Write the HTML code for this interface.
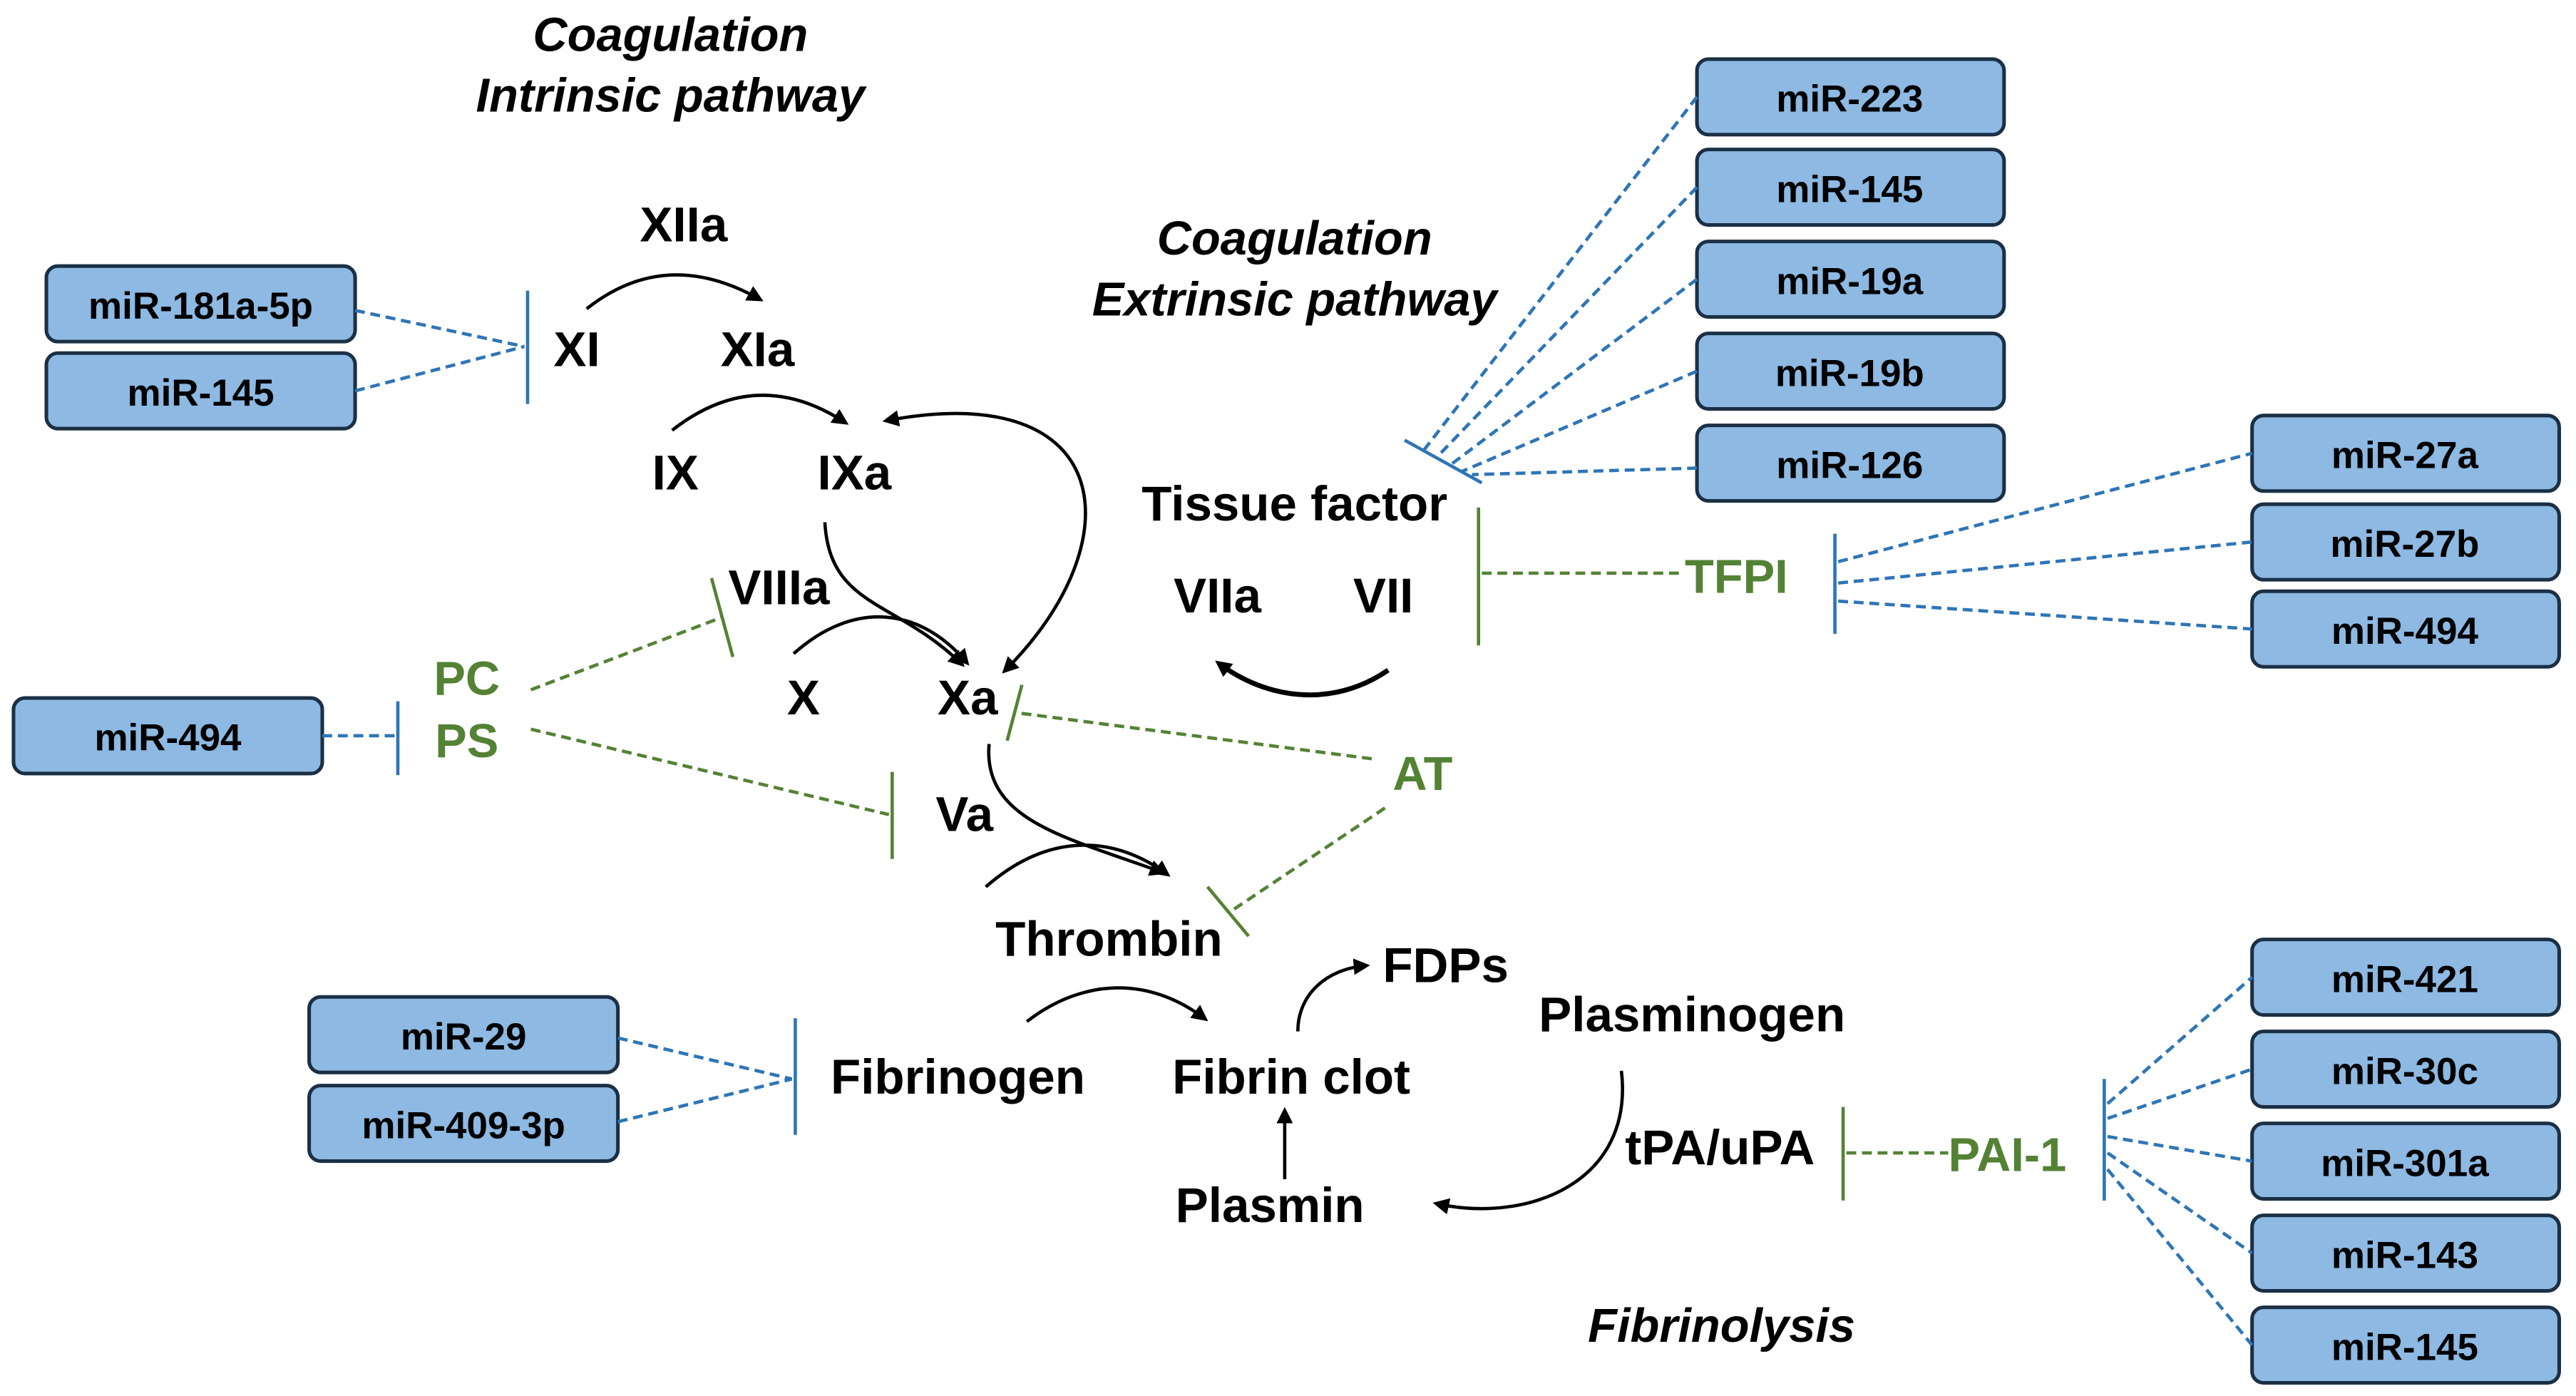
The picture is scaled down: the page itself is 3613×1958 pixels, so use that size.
<!DOCTYPE html>
<html><head><meta charset="utf-8"><style>
html,body{margin:0;padding:0;background:#fff;}
svg{display:block;}
text{font-family:"Liberation Sans",sans-serif;font-weight:bold;}
.b{font-size:30px;fill:#000;text-anchor:middle;}
.i{font-size:29px;font-style:italic;text-anchor:middle;}
.g{font-size:29px;fill:#548235;text-anchor:middle;}
.m{font-size:23px;text-anchor:middle;fill:#000;}
.box{fill:#8db9e2;stroke:#1b2f45;stroke-width:2.2;}
.bd{stroke:#2e75b6;stroke-width:2;stroke-dasharray:6,3.5;fill:none;}
.bb{stroke:#2e75b6;stroke-width:2;fill:none;}
.gd{stroke:#548235;stroke-width:2;stroke-dasharray:6,3.5;fill:none;}
.gb{stroke:#548235;stroke-width:2;fill:none;}
.ar{stroke:#000;stroke-width:2;fill:none;marker-end:url(#ah);}
</style></head><body>
<svg width="3613" height="1958" viewBox="0 0 1568 850" xmlns="http://www.w3.org/2000/svg">
<defs><marker id="ah" markerWidth="10" markerHeight="10" refX="7" refY="5" orient="auto" markerUnits="userSpaceOnUse"><path d="M0,0 L10,5 L0,10 z" fill="#000"/></marker>
<marker id="as" markerWidth="10" markerHeight="10" refX="3" refY="5" orient="auto" markerUnits="userSpaceOnUse"><path d="M10,0 L0,5 L10,10 z" fill="#000"/></marker></defs>

<g>
<rect class="box" x="28" y="162" width="188" height="46" rx="7"/><text class="m" x="122" y="194">miR-181a-5p</text>
<rect class="box" x="28" y="215" width="188" height="46" rx="7"/><text class="m" x="122" y="247">miR-145</text>
<rect class="box" x="8" y="425" width="188" height="46" rx="7"/><text class="m" x="102" y="457">miR-494</text>
<rect class="box" x="188" y="607" width="188" height="46" rx="7"/><text class="m" x="282" y="639">miR-29</text>
<rect class="box" x="188" y="661" width="188" height="46" rx="7"/><text class="m" x="282" y="693">miR-409-3p</text>
<rect class="box" x="1033" y="36" width="187" height="46" rx="7"/><text class="m" x="1126" y="68">miR-223</text>
<rect class="box" x="1033" y="91" width="187" height="46" rx="7"/><text class="m" x="1126" y="123">miR-145</text>
<rect class="box" x="1033" y="147" width="187" height="46" rx="7"/><text class="m" x="1126" y="179">miR-19a</text>
<rect class="box" x="1033" y="203" width="187" height="46" rx="7"/><text class="m" x="1126" y="235">miR-19b</text>
<rect class="box" x="1033" y="259" width="187" height="46" rx="7"/><text class="m" x="1126" y="291">miR-126</text>
<rect class="box" x="1371" y="253" width="187" height="46" rx="7"/><text class="m" x="1464" y="285">miR-27a</text>
<rect class="box" x="1371" y="307" width="187" height="46" rx="7"/><text class="m" x="1464" y="339">miR-27b</text>
<rect class="box" x="1371" y="360" width="187" height="46" rx="7"/><text class="m" x="1464" y="392">miR-494</text>
<rect class="box" x="1371" y="572" width="187" height="46" rx="7"/><text class="m" x="1464" y="604">miR-421</text>
<rect class="box" x="1371" y="628" width="187" height="46" rx="7"/><text class="m" x="1464" y="660">miR-30c</text>
<rect class="box" x="1371" y="684" width="187" height="46" rx="7"/><text class="m" x="1464" y="716">miR-301a</text>
<rect class="box" x="1371" y="740" width="187" height="46" rx="7"/><text class="m" x="1464" y="772">miR-143</text>
<rect class="box" x="1371" y="796" width="187" height="46" rx="7"/><text class="m" x="1464" y="828">miR-145</text>
</g>

<line class="bb" x1="321" y1="177" x2="321" y2="246"/>
<path class="bd" d="M216,189 L319,211 M216,238 L319,211"/>
<line class="bb" x1="242" y1="427" x2="242" y2="472"/>
<path class="bd" d="M196,448 L240,448"/>
<line class="bb" x1="484" y1="620" x2="484" y2="691"/>
<path class="bd" d="M376,632 L482,657 M376,683 L482,657"/>
<line class="bb" x1="855" y1="268" x2="902" y2="294"/>
<path class="bd" d="M1033,59 L866,275 M1033,114 L874,279 M1033,170 L883,283 M1033,226 L890,287 M1033,285 L896,289"/>
<line class="bb" x1="1117" y1="325" x2="1117" y2="386"/>
<path class="bd" d="M1119,342 L1371,276 M1119,355 L1371,330 M1119,366 L1371,383"/>
<line class="bb" x1="1281" y1="657" x2="1281" y2="731"/>
<path class="bd" d="M1283,672 L1371,595 M1283,681 L1371,651 M1283,692 L1371,707 M1283,702 L1371,763 M1283,712 L1371,819"/>

<line class="gb" x1="900" y1="309" x2="900" y2="393"/>
<path class="gd" d="M902,349 L1022,349"/>
<line class="gb" x1="1122" y1="674" x2="1122" y2="731"/>
<path class="gd" d="M1124,702 L1186,702"/>
<line class="gb" x1="433" y1="352" x2="446" y2="400"/>
<path class="gd" d="M323,420 L439,376"/>
<line class="gb" x1="543" y1="470" x2="543" y2="523"/>
<path class="gd" d="M323,444 L541,496"/>
<line class="gb" x1="622" y1="417" x2="613" y2="451"/>
<path class="gd" d="M835,462 L619,434"/>
<line class="gb" x1="735" y1="540" x2="760" y2="570"/>
<path class="gd" d="M843,492 L749,555"/>

<path class="ar" d="M357,188 Q405,150 462,182"/>
<path class="ar" d="M409,262 Q460,222 514,257"/>
<path class="ar" style="marker-start:url(#as)" d="M612,408 C690,330 680,230 540,256"/>
<path class="ar" d="M502,318 C505,370 545,365 585,404"/>
<path class="ar" d="M483,398 C520,365 560,370 588,403"/>
<path class="ar" d="M602,453 C598,500 650,510 707,531"/>
<path class="ar" d="M600,540 C640,505 680,510 710,532"/>
<path class="ar" style="stroke-width:3" d="M845,408 C810,432 770,425 742,404"/>
<path class="ar" d="M625,622 C660,595 700,595 733,620"/>
<path class="ar" d="M790,628 C790,605 808,590 831,588"/>
<path class="ar" d="M782,718 L782,677"/>
<path class="ar" d="M987,652 C995,720 930,745 875,733"/>

<text class="i" x="408" y="31">Coagulation</text>
<text class="i" x="408" y="68">Intrinsic pathway</text>
<text class="i" x="788" y="155">Coagulation</text>
<text class="i" x="788" y="192">Extrinsic pathway</text>
<text class="i" x="1048" y="817">Fibrinolysis</text>
<text class="b" x="416" y="147">XIIa</text>
<text class="b" x="351" y="223">XI</text>
<text class="b" x="461" y="223">XIa</text>
<text class="b" x="411" y="298">IX</text>
<text class="b" x="520" y="298">IXa</text>
<text class="b" x="474" y="368">VIIIa</text>
<text class="b" x="489" y="435">X</text>
<text class="b" x="589" y="435">Xa</text>
<text class="b" x="587" y="506">Va</text>
<text class="b" x="675" y="582">Thrombin</text>
<text class="b" x="583" y="666">Fibrinogen</text>
<text class="b" x="786" y="666">Fibrin clot</text>
<text class="b" x="880" y="598">FDPs</text>
<text class="b" x="1030" y="628">Plasminogen</text>
<text class="b" x="1047" y="709">tPA/uPA</text>
<text class="b" x="773" y="744">Plasmin</text>
<text class="b" x="788" y="317">Tissue factor</text>
<text class="b" x="741" y="373">VIIa</text>
<text class="b" x="842" y="373">VII</text>
<text class="g" x="284" y="423">PC</text>
<text class="g" x="284" y="461">PS</text>
<text class="g" x="866" y="481">AT</text>
<text class="g" x="1057" y="361">TFPI</text>
<text class="g" x="1222" y="713">PAI-1</text>
</svg>
</body></html>
